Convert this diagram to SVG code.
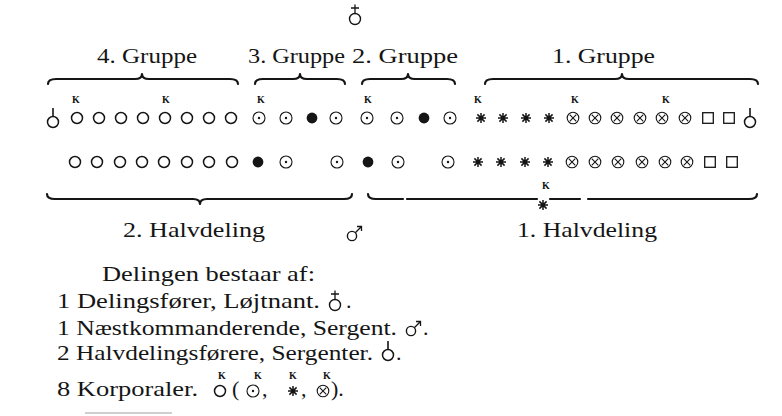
<svg xmlns="http://www.w3.org/2000/svg" xmlns:xlink="http://www.w3.org/1999/xlink" width="782" height="416" viewBox="0 0 782 416">
<style>
.t{font-family:"Liberation Serif","Times New Roman",serif;fill:#151515}
.lab{font-size:21px}
.txt{font-size:22px}
.k{font-size:10px;font-weight:bold}
.br{fill:none;stroke:#151515;stroke-width:2.2;stroke-linecap:round;stroke-linejoin:round}
.ln{fill:none;stroke:#151515;stroke-width:1.4}
</style>
<defs>
<g id="oc"><circle r="5.5" fill="none" stroke="#151515" stroke-width="1.5"/></g>
<g id="dc"><circle r="6" fill="none" stroke="#151515" stroke-width="1.1"/><circle r="1.2" fill="#151515"/></g>
<g id="fc"><circle r="5.4" fill="#151515"/></g>
<g id="st" stroke="#151515" stroke-width="1.5"><line x1="-5" y1="0" x2="5" y2="0"/><line x1="0" y1="-5" x2="0" y2="5"/><line x1="-3.6" y1="-3.6" x2="3.6" y2="3.6"/><line x1="-3.6" y1="3.6" x2="3.6" y2="-3.6"/><circle r="2.2" fill="#151515" stroke="none"/></g>
<g id="xc"><circle r="5.8" fill="none" stroke="#151515" stroke-width="1.1"/><path d="M-3.3,-3.3 L3.3,3.3 M-3.3,3.3 L3.3,-3.3" stroke="#151515" stroke-width="1.1"/></g>
<g id="sq"><rect x="-5.3" y="-5.3" width="10.6" height="10.6" fill="none" stroke="#151515" stroke-width="1.3"/></g>
<g id="hf"><circle cx="0" cy="4" r="5.5" fill="none" stroke="#151515" stroke-width="1.5"/><line x1="0" y1="-10" x2="0" y2="-1.5" stroke="#151515" stroke-width="1.6"/></g>
<g id="df"><circle cx="0" cy="0" r="5.5" fill="none" stroke="#151515" stroke-width="1.4"/><path d="M0,-14.5 L0,-5.5 M-4,-11 L4,-11" stroke="#151515" stroke-width="1.3"/></g>
<g id="nk"><circle cx="0" cy="0" r="4.6" fill="none" stroke="#151515" stroke-width="1.4"/><path d="M3.3,-3.3 L9.5,-9.5 M5,-9.5 L9.5,-9.5 L9.5,-5" stroke="#151515" stroke-width="1.3" fill="none"/></g>
</defs>
<rect width="782" height="416" fill="#ffffff"/>

<g id="delingsforer"><use xlink:href="#df" x="355" y="19"/></g>

<g id="group-labels">
<text class="t lab" x="97" y="63" textLength="100" lengthAdjust="spacingAndGlyphs">4. Gruppe</text>
<text class="t lab" x="248" y="63" textLength="97" lengthAdjust="spacingAndGlyphs">3. Gruppe</text>
<text class="t lab" x="352" y="63" textLength="106" lengthAdjust="spacingAndGlyphs">2. Gruppe</text>
<text class="t lab" x="552" y="63" textLength="103" lengthAdjust="spacingAndGlyphs">1. Gruppe</text>
</g>

<g id="connectors">
<path class="br" d="M48,84 Q48,79 56,79 L135,79 Q142,79 142,74 Q142,79 149,79 L230,79 Q238,79 238,84"/>
<path class="br" d="M255,84 Q255,79 263,79 L293,79 Q300,79 300,74 Q300,79 307,79 L337,79 Q345,79 345,84"/>
<path class="br" d="M362,84 Q362,79 370,79 L401,79 Q408,79 408,74 Q408,79 415,79 L447,79 Q455,79 455,84"/>
<path class="br" d="M485,84 Q485,79 493,79 L615,79 Q622,79 622,74 Q622,79 629,79 L750,79 Q758,79 758,84"/>
<path class="br" d="M47,194 Q47,199 55,199 L193,199 Q200,199 200,204 Q200,199 207,199 L344,199 Q352,199 352,194"/>
<path class="br" d="M368,194 Q368,199 376,199 L403,199 M407,199 L537,199 M550,199 L580,199 M588,199 L749,199 Q757,199 757,194"/>
</g>

<g id="row1">
<use xlink:href="#hf" x="53" y="118"/>
<use xlink:href="#oc" x="77" y="118"/><use xlink:href="#oc" x="99" y="118"/><use xlink:href="#oc" x="121" y="118"/><use xlink:href="#oc" x="143" y="118"/><use xlink:href="#oc" x="165" y="118"/><use xlink:href="#oc" x="187" y="118"/><use xlink:href="#oc" x="209" y="118"/><use xlink:href="#oc" x="231" y="118"/>
<use xlink:href="#dc" x="259" y="118"/><use xlink:href="#dc" x="286" y="118"/><use xlink:href="#fc" x="312" y="118"/><use xlink:href="#dc" x="336" y="118"/>
<use xlink:href="#dc" x="367" y="118"/><use xlink:href="#dc" x="397" y="118"/><use xlink:href="#fc" x="424" y="118"/><use xlink:href="#dc" x="450" y="118"/>
<use xlink:href="#st" x="481" y="118"/><use xlink:href="#st" x="503" y="118"/><use xlink:href="#st" x="526" y="118"/><use xlink:href="#st" x="549" y="118"/>
<use xlink:href="#xc" x="573" y="118"/><use xlink:href="#xc" x="595" y="118"/><use xlink:href="#xc" x="617" y="118"/><use xlink:href="#xc" x="640" y="118"/><use xlink:href="#xc" x="662" y="118"/><use xlink:href="#xc" x="685" y="118"/>
<use xlink:href="#sq" x="708" y="118"/><use xlink:href="#sq" x="729" y="118"/>
<use xlink:href="#hf" x="750" y="118"/>
<g class="t k" text-anchor="middle">
<text x="76" y="103">K</text><text x="166" y="103">K</text><text x="261" y="103">K</text><text x="368" y="103">K</text><text x="478" y="103">K</text><text x="575" y="103">K</text><text x="666" y="103">K</text>
</g>
</g>

<g id="row2">
<use xlink:href="#oc" x="75" y="162"/><use xlink:href="#oc" x="97" y="162"/><use xlink:href="#oc" x="120" y="162"/><use xlink:href="#oc" x="142" y="162"/><use xlink:href="#oc" x="164" y="162"/><use xlink:href="#oc" x="187" y="162"/><use xlink:href="#oc" x="209" y="162"/><use xlink:href="#oc" x="232" y="162"/>
<use xlink:href="#fc" x="258" y="162"/><use xlink:href="#dc" x="286" y="162"/>
<use xlink:href="#dc" x="337" y="162"/><use xlink:href="#fc" x="368" y="162"/><use xlink:href="#dc" x="398" y="162"/>
<use xlink:href="#dc" x="448" y="162"/>
<use xlink:href="#st" x="478" y="162"/><use xlink:href="#st" x="501" y="162"/><use xlink:href="#st" x="525" y="162"/><use xlink:href="#st" x="548" y="162"/>
<use xlink:href="#xc" x="572" y="162"/><use xlink:href="#xc" x="595" y="162"/><use xlink:href="#xc" x="618" y="162"/><use xlink:href="#xc" x="642" y="162"/><use xlink:href="#xc" x="665" y="162"/><use xlink:href="#xc" x="687" y="162"/>
<use xlink:href="#sq" x="710" y="162"/><use xlink:href="#sq" x="732" y="162"/>
</g>

<g id="halvdeling-star">
<use xlink:href="#st" x="543" y="205"/>
<text class="t k" x="546" y="189" text-anchor="middle">K</text>
</g>

<g id="halvdeling-labels">
<text class="t txt" x="123" y="237" textLength="142" lengthAdjust="spacingAndGlyphs">2.  Halvdeling</text>
<use xlink:href="#nk" x="352" y="236"/>
<text class="t txt" x="517" y="237" textLength="140" lengthAdjust="spacingAndGlyphs">1. Halvdeling</text>
</g>

<g id="legend">
<text class="t txt" x="102" y="281" textLength="213" lengthAdjust="spacingAndGlyphs">Delingen bestaar af:</text>
<text class="t txt" x="57" y="308" textLength="263" lengthAdjust="spacingAndGlyphs">1 Delingsfører, Løjtnant.</text>
<use xlink:href="#df" x="335" y="305"/>
<text class="t txt" x="346" y="308">.</text>
<text class="t txt" x="57" y="335" textLength="340" lengthAdjust="spacingAndGlyphs">1 Næstkommanderende, Sergent.</text>
<use xlink:href="#nk" x="411" y="331"/>
<text class="t txt" x="423" y="335">.</text>
<text class="t txt" x="57" y="360" textLength="316" lengthAdjust="spacingAndGlyphs">2 Halvdelingsførere, Sergenter.</text>
<use xlink:href="#hf" x="388" y="351"/>
<text class="t txt" x="396" y="360">.</text>
<text class="t txt" x="57" y="396" textLength="141" lengthAdjust="spacingAndGlyphs">8 Korporaler.</text>
<use xlink:href="#oc" x="220" y="391"/>
<text class="t txt" x="232" y="396">(</text>
<use xlink:href="#dc" x="253" y="391"/>
<text class="t txt" x="262" y="396">,</text>
<use xlink:href="#st" x="293" y="391"/>
<text class="t txt" x="301" y="396">,</text>
<use xlink:href="#xc" x="323" y="391"/>
<text class="t txt" x="331" y="396">).</text>
<g class="t k" text-anchor="middle">
<text x="222" y="379">K</text><text x="258" y="379">K</text><text x="293" y="379">K</text><text x="327" y="379">K</text>
</g>
<line x1="85" y1="413" x2="172" y2="413" stroke="#cfcfcf" stroke-width="2"/>
</g>
</svg>
